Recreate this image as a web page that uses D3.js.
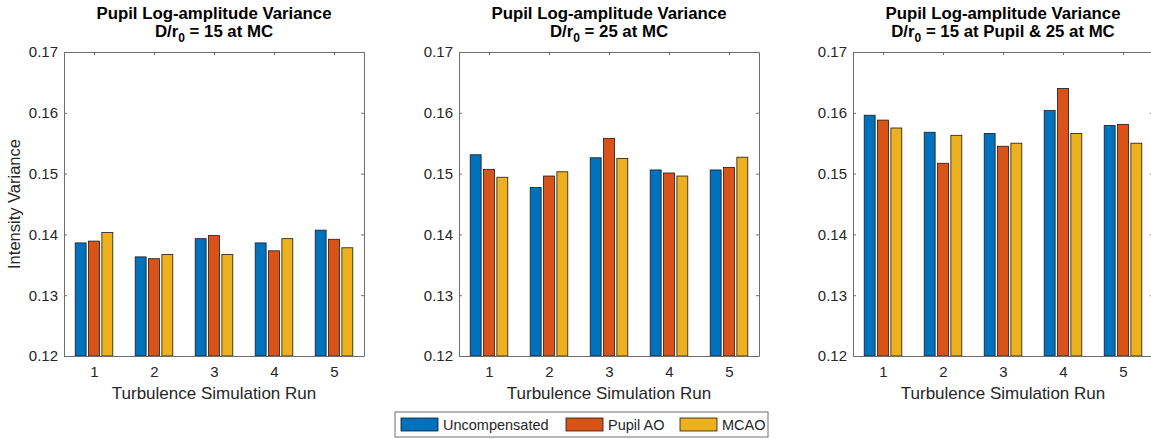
<!DOCTYPE html>
<html>
<head>
<meta charset="utf-8">
<script src="https://cdn.jsdelivr.net/npm/d3@7"></script>
<style>
  html, body { margin: 0; padding: 0; background: #fff; }
  svg { display: block; font-family: "Liberation Sans", Arial, Helvetica, sans-serif; }
</style>
</head>
<body>
<svg id="chart" width="1151" height="439"></svg>
<script>
// ---------- data ----------
const runs = [1, 2, 3, 4, 5];
const seriesNames = ["Uncompensated", "Pupil AO", "MCAO"];
const seriesColors = ["#0072BD", "#D95319", "#EDB120"];
const yTicks = [0.12, 0.13, 0.14, 0.15, 0.16, 0.17];
const yDomain = [0.12, 0.17];

const panel1Title = ["Pupil Log-amplitude Variance", "= 15 at MC"];
const panel1Uncompensated = [0.1386, 0.1363, 0.1393, 0.1386, 0.1407];
const panel1PupilAO       = [0.1389, 0.1360, 0.1398, 0.1373, 0.1392];
const panel1MCAO          = [0.1403, 0.1367, 0.1367, 0.1393, 0.1378];

const panel2Title = ["Pupil Log-amplitude Variance", "= 25 at MC"];
const panel2Uncompensated = [0.1531, 0.1477, 0.1526, 0.1506, 0.1506];
const panel2PupilAO       = [0.1507, 0.1496, 0.1558, 0.1501, 0.1510];
const panel2MCAO          = [0.1494, 0.1503, 0.1525, 0.1496, 0.1527];

const panel3Title = ["Pupil Log-amplitude Variance", "= 15 at Pupil & 25 at MC"];
const panel3Uncompensated = [0.1596, 0.1568, 0.1566, 0.1604, 0.1579];
const panel3PupilAO       = [0.1588, 0.1517, 0.1545, 0.1640, 0.1581];
const panel3MCAO          = [0.1575, 0.1563, 0.1550, 0.1566, 0.1550];

const xLabel = "Turbulence Simulation Run";
const yLabel = "Intensity Variance";

const panels = [
  { title: panel1Title, series: [panel1Uncompensated, panel1PupilAO, panel1MCAO], showYLabel: true },
  { title: panel2Title, series: [panel2Uncompensated, panel2PupilAO, panel2MCAO], showYLabel: false },
  { title: panel3Title, series: [panel3Uncompensated, panel3PupilAO, panel3MCAO], showYLabel: false }
];

// ---------- layout ----------
const panelLefts = [64, 459, 853];
const plotW = 300, plotTop = 52, plotBottom = 356;
const axisColor = "#6e6e6e";
const textColor = "#262626";

const svg = d3.select("#chart");

const y = d3.scaleLinear().domain(yDomain).range([plotBottom, plotTop]);

panels.forEach((p, pi) => {
  const left = panelLefts[pi];
  const x = d3.scaleLinear().domain([0.5, 5.5]).range([left, left + plotW]);
  const slot = (x(1) - x(0)) * (2 / 3) / 3;   // width of one bar slot in a group
  const barW = slot * 0.82;
  const g = svg.append("g");

  // bars
  p.series.forEach((vals, si) => {
    g.selectAll(null)
      .data(vals.map((v, i) => ({ run: runs[i], v })))
      .enter().append("rect")
      .attr("x", d => x(d.run) + (si - 1) * slot - barW / 2)
      .attr("y", d => y(d.v))
      .attr("width", barW)
      .attr("height", d => y(yDomain[0]) - y(d.v))
      .attr("fill", seriesColors[si])
      .attr("stroke", "#1a1a1a")
      .attr("stroke-width", 0.8);
  });

  // axes
  const tickLen = 3;
  const left_ = g.append("g").attr("transform", `translate(${left},0)`)
    .call(d3.axisLeft(y).tickValues(yTicks).tickFormat(d3.format(".2f")).tickSizeInner(-tickLen).tickSizeOuter(0).tickPadding(6));
  const right_ = g.append("g").attr("transform", `translate(${left + plotW},0)`)
    .call(d3.axisRight(y).tickValues(yTicks).tickFormat("").tickSizeInner(-tickLen).tickSizeOuter(0));
  const bottom_ = g.append("g").attr("transform", `translate(0,${plotBottom})`)
    .call(d3.axisBottom(x).tickValues(runs).tickFormat(d3.format("d")).tickSizeInner(-tickLen).tickSizeOuter(0).tickPadding(10));
  const top_ = g.append("g").attr("transform", `translate(0,${plotTop})`)
    .call(d3.axisTop(x).tickValues(runs).tickFormat("").tickSizeInner(-tickLen).tickSizeOuter(0));

  [left_, right_, bottom_, top_].forEach(a => {
    a.select(".domain").attr("stroke", axisColor).attr("stroke-width", 1);
    a.selectAll(".tick line").attr("stroke", axisColor);
    a.selectAll("text").attr("fill", textColor).style("font-size", "15px")
      .style("font-family", '"Liberation Sans", Arial, sans-serif');
  });

  // titles
  const cx = left + plotW / 2;
  g.append("text").attr("x", cx).attr("y", 19).attr("text-anchor", "middle")
    .attr("font-weight", "bold").attr("font-size", "16.8px").attr("fill", "#000")
    .text(p.title[0]);
  const t2 = g.append("text").attr("x", cx).attr("y", 37).attr("text-anchor", "middle")
    .attr("font-weight", "bold").attr("font-size", "16.8px").attr("fill", "#000");
  t2.append("tspan").text("D/r");
  t2.append("tspan").attr("dy", 5).attr("font-size", "12px").text("0");
  t2.append("tspan").attr("dy", -5).text(" " + p.title[1]);

  // x label
  g.append("text").attr("x", cx).attr("y", 399).attr("text-anchor", "middle")
    .attr("font-size", "17px").attr("fill", textColor).text(xLabel);

  if (p.showYLabel) {
    g.append("text").attr("transform", `translate(20,${(plotTop + plotBottom) / 2}) rotate(-90)`)
      .attr("text-anchor", "middle").attr("font-size", "16.5px").attr("fill", textColor).text(yLabel);
  }
});

// ---------- legend ----------
const legend = svg.append("g");
const legendBox = { x: 395, y: 412, w: 373, h: 25 };
legend.append("rect").attr("x", legendBox.x).attr("y", legendBox.y)
  .attr("width", legendBox.w).attr("height", legendBox.h)
  .attr("fill", "#fff").attr("stroke", axisColor).attr("stroke-width", 1);
const legendX = [401, 566, 680];
seriesNames.forEach((name, i) => {
  legend.append("rect").attr("x", legendX[i]).attr("y", 418).attr("width", 37).attr("height", 13)
    .attr("fill", seriesColors[i]).attr("stroke", "#1a1a1a").attr("stroke-width", 0.8);
  legend.append("text").attr("x", legendX[i] + 42).attr("y", 429.5)
    .attr("font-size", "14.5px").attr("fill", textColor).text(name);
});
</script>
</body>
</html>
